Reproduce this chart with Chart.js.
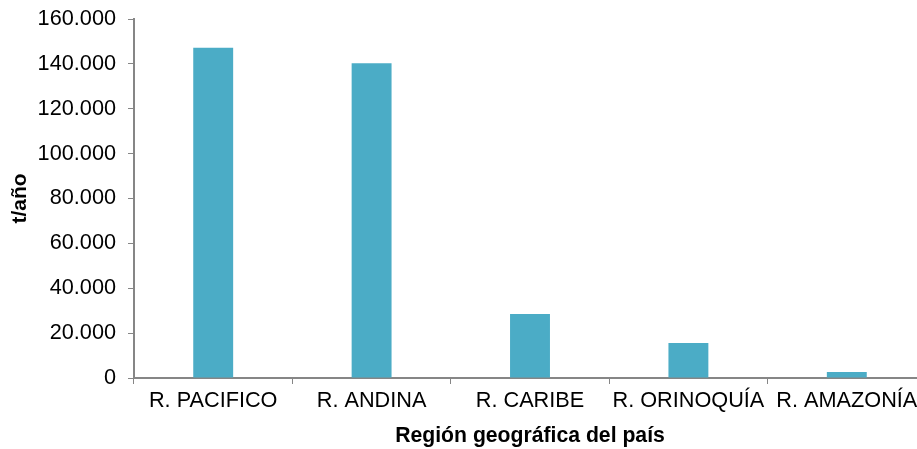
<!DOCTYPE html>
<html>
<head>
<meta charset="utf-8">
<script src="https://cdn.jsdelivr.net/npm/chart.js@4.4.1/dist/chart.umd.min.js"></script>
<style>
    html, body { margin: 0; padding: 0; background: #fff; overflow: hidden; }
    #wrap { width: 926px; height: 449px; }
</style>
</head>
<body>
<div id="wrap"><canvas id="chart" width="926" height="449"></canvas></div>
<script>
// datos (t/año por region)
const regions = ['R. PACIFICO', 'R. ANDINA', 'R. CARIBE', 'R. ORINOQUÍA', 'R. AMAZONÍA'];
const tonsPerYear = [147200, 140300, 28500, 15600, 2700];
const yTicks = [0, 20000, 40000, 60000, 80000, 100000, 120000, 140000, 160000];

const axisGray = '#868686';

function formatDots(v) {
    return v.toString().replace(/\B(?=(\d{3})+(?!\d))/g, '.');
}

const ctx = document.getElementById('chart');

new Chart(ctx, {
    type: 'bar',
    data: {
        labels: regions,
        datasets: [{
            data: tonsPerYear,
            backgroundColor: '#4BACC6',
            borderWidth: 0,
            barPercentage: 0.252,
            categoryPercentage: 1
        }]
    },
    options: {
        responsive: false,
        animation: false,
        layout: {padding: {top: 0, right: 0, bottom: 0, left: 0}},
        plugins: {
            legend: {display: false},
            tooltip: {enabled: false}
        },
        scales: {
            x: {
                afterFit: function (scale) {
                    scale.height = 71;
                },
                grid: {
                    display: true,
                    drawOnChartArea: false,
                    drawTicks: true,
                    tickLength: 6,
                    color: axisGray,
                    offset: true
                },
                border: {color: axisGray, width: 2},
                ticks: {
                    color: '#000',
                    font: {family: 'Liberation Sans', size: 21.7},
                    padding: 4,
                    maxRotation: 0,
                    autoSkip: false
                },
                title: {
                    display: true,
                    text: 'Región geográfica del país',
                    color: '#000',
                    font: {family: 'Liberation Sans', size: 21.2, weight: 'bold'},
                    padding: {top: 4, bottom: 0}
                }
            },
            y: {
                min: 0,
                max: 160000,
                afterFit: function (scale) {
                    scale.width = 134;
                    scale.paddingTop = 19;
                },
                afterBuildTicks: function (scale) {
                    scale.ticks = yTicks.map(v => ({value: v}));
                },
                grid: {
                    display: true,
                    drawOnChartArea: false,
                    drawTicks: true,
                    tickLength: 6,
                    color: axisGray
                },
                border: {color: axisGray, width: 2},
                ticks: {
                    color: '#000',
                    font: {family: 'Liberation Sans', size: 21.7},
                    padding: 12,
                    callback: function (value) {
                        return formatDots(value);
                    }
                },
                title: {
                    display: true,
                    text: 't/año',
                    color: '#000',
                    font: {family: 'Liberation Sans', size: 21, weight: 'bold'},
                    padding: {top: 8, bottom: 0}
                }
            }
        }
    }
});
</script>
</body>
</html>
